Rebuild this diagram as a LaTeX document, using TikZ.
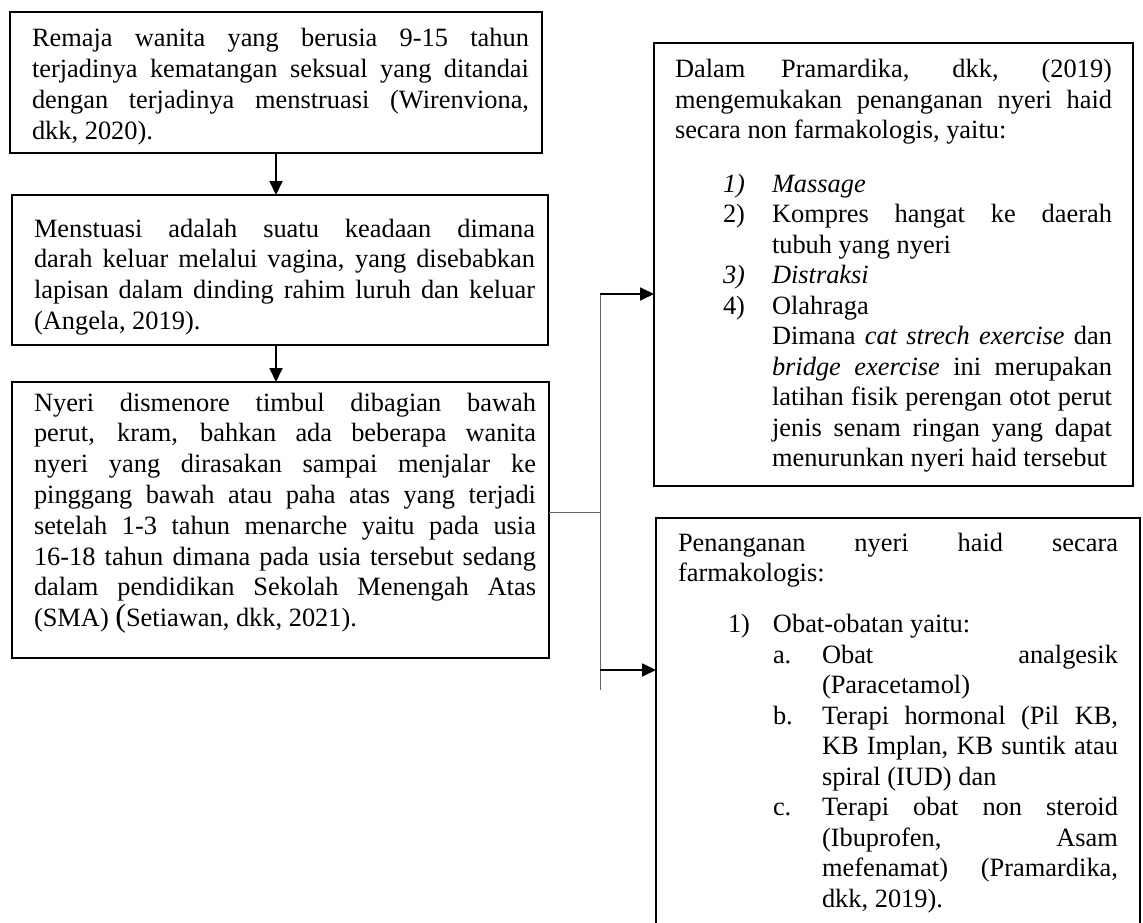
\documentclass[tikz,border=0pt]{standalone}
\usepackage{fontspec}
\setmainfont[Ligatures=NoCommon]{Liberation Serif}
\usetikzlibrary{arrows.meta}
\newcommand\mJL[1]{\noindent\makebox[\hsize][s]{\spaceskip=0pt\xspaceskip=0pt #1}\par}
\newcommand\mLL[1]{\noindent#1\par}
\newcommand\mIJ[4]{\noindent\hbox to\hsize{\hskip#1\makebox[#2][l]{#3}\makebox[\dimexpr\hsize-#1-#2\relax][s]{\spaceskip=0pt\xspaceskip=0pt #4}}\par}
\newcommand\mIL[4]{\noindent\hbox to\hsize{\hskip#1\makebox[#2][l]{#3}#4\hss}\par}
\newcommand\mFS{\rule{0pt}{20pt}}
\begin{document}
\begin{tikzpicture}[x=1pt,y=-1pt,
  boxn/.style={draw, line width=1.8pt, inner sep=0pt, outer sep=0pt, anchor=north west},
  txt/.style={anchor=north west, inner sep=0pt, outer sep=0pt, text width=#1, align=justify,
    font=\fontsize{26.4}{30.5}\selectfont},
  txl/.style={txt=#1, font=\fontsize{26.4}{30.8}\selectfont},
  arr/.style={line width=1.8pt, -{Triangle[length=14pt,width=13pt]}},
  conn/.style={draw=black!60, line width=1pt}]
\useasboundingbox (0,0) rectangle (1143,923);
% boxes
\node[boxn, minimum width=532pt, minimum height=141pt] (b1) at (10,12) {};
\node[boxn, minimum width=536pt, minimum height=150pt] (b2) at (12,195) {};
\node[boxn, minimum width=537pt, minimum height=276pt] (b3) at (12,382) {};
\node[boxn, minimum width=479pt, minimum height=443pt] (b4) at (654,43) {};
\node[boxn, minimum width=484pt, minimum height=420pt] (b5) at (656,518) {};
% texts
\node[txl=497pt] (t1) at (32,27) {%
\mJL{\mFS Remaja wanita yang berusia 9-15 tahun}
\mJL{terjadinya kematangan seksual yang ditandai}
\mJL{dengan terjadinya menstruasi (Wirenviona,}
\mLL{dkk, 2020).}};
\node[txl=501pt] (t2) at (34,217) {%
\mJL{\mFS Menstuasi adalah suatu keadaan dimana}
\mJL{darah keluar melalui vagina, yang disebabkan}
\mJL{lapisan dalam dinding rahim luruh dan keluar}
\mLL{(Angela, 2019).}};
\node[txl=502pt] (t3) at (34,391) {%
\mJL{\mFS Nyeri dismenore timbul dibagian bawah}
\mJL{perut, kram, bahkan ada beberapa wanita}
\mJL{nyeri yang dirasakan sampai menjalar ke}
\mJL{pinggang bawah atau paha atas yang terjadi}
\mJL{setelah 1-3 tahun menarche yaitu pada usia}
\mJL{16-18 tahun dimana pada usia tersebut sedang}
\mJL{dalam pendidikan Sekolah Menengah Atas}
\mLL{(SMA) {\fontsize{32}{30.3}\selectfont(}Setiawan, dkk, 2021).}};
\node[txt=437pt] (t4) at (675,58) {%
\mJL{\mFS Dalam Pramardika, dkk, (2019)}
\mJL{mengemukakan penanganan nyeri haid}
\mLL{secara non farmakologis, yaitu:}
\vskip 23pt
\mIL{48pt}{49pt}{\textit{1)}}{\textit{Massage}}
\mIJ{48pt}{49pt}{2)}{Kompres hangat ke daerah}
\mIL{48pt}{49pt}{}{tubuh yang nyeri}
\mIL{48pt}{49pt}{\textit{3)}}{\textit{Distraksi}}
\mIL{48pt}{49pt}{4)}{Olahraga}
\mIJ{48pt}{49pt}{}{Dimana \textit{cat strech exercise} dan}
\mIJ{48pt}{49pt}{}{\textit{bridge exercise} ini merupakan}
\mIJ{48pt}{49pt}{}{latihan fisik perengan otot perut}
\mIJ{48pt}{49pt}{}{jenis senam ringan yang dapat}
\mIL{48pt}{49pt}{}{menurunkan nyeri haid tersebut}};
\node[txt=440pt] (t5) at (678,531) {%
\mJL{\mFS Penanganan nyeri haid secara}
\mLL{farmakologis:}
\vskip 20.5pt
\mIL{50pt}{45pt}{1)}{Obat-obatan yaitu:}
\mIJ{95pt}{49pt}{a.}{Obat analgesik}
\mIL{95pt}{49pt}{}{(Paracetamol)}
\mIJ{95pt}{49pt}{b.}{Terapi hormonal (Pil KB,}
\mIJ{95pt}{49pt}{}{KB Implan, KB suntik atau}
\mIL{95pt}{49pt}{}{spiral (IUD) dan}
\mIJ{95pt}{49pt}{c.}{Terapi obat non steroid}
\mIJ{95pt}{49pt}{}{(Ibuprofen, Asam}
\mIJ{95pt}{49pt}{}{mefenamat) (Pramardika,}
\mIL{95pt}{49pt}{}{dkk, 2019).}};
% connectors
\draw[arr] (b1.south) -- (b1.south |- b2.north);
\draw[arr] (b2.south -| b1.south) -- (b3.north -| b1.south);
\coordinate (j) at (600,512);
\coordinate (vt) at (600,294);
\coordinate (vb) at (600,690);
\coordinate (a2) at (600,670);
\draw[conn] (b3.east |- j) -- (j);
\draw[conn] (vt) -- (vb);
\draw[arr] (vt) -- (vt -| b4.west);
\draw[arr] (a2) -- (a2 -| b5.west);
\end{tikzpicture}
\end{document}
